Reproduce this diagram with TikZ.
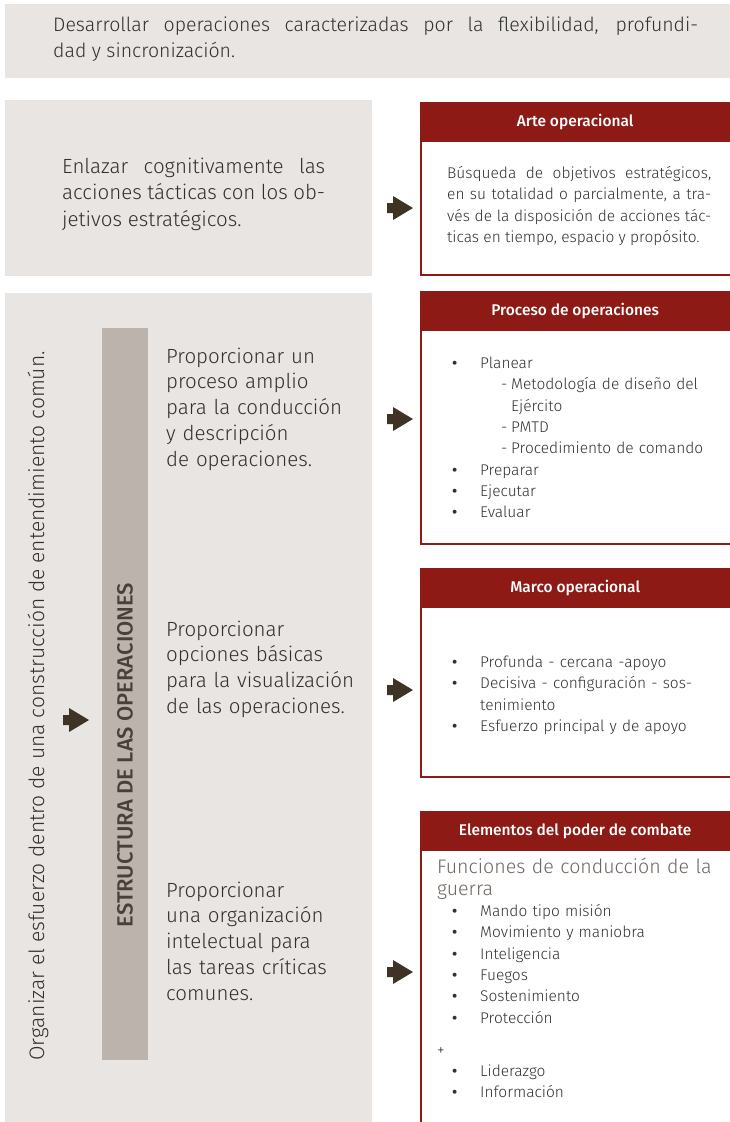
\documentclass[tikz,border=0pt]{standalone}
\usepackage{fontspec}
\setmainfont{Fira Sans}[UprightFont=* Light, BoldFont=* Medium]
\definecolor{panelgray}{HTML}{E8E5E2}
\definecolor{bargray}{HTML}{BCB4AC}
\definecolor{armyred}{HTML}{8E1A16}
\definecolor{arrowbrown}{HTML}{3F3325}
\definecolor{textdark}{HTML}{303030}
\definecolor{bartext}{HTML}{4A4038}
\definecolor{softtext}{HTML}{6E6660}
\tikzset{
  panel/.style={fill=panelgray, anchor=north west, inner sep=0pt},
  headbar/.style={fill=armyred, anchor=north west, inner sep=0pt, minimum width=310, minimum height=40, text=white, font=\fontsize{15.5}{17}\selectfont\bfseries},
  redline/.style={armyred, line width=2pt},
  bigtext/.style={anchor=base west, inner sep=0pt, text=textdark, text width=200, align=left, font=\fontsize{20.5}{25.8}\selectfont},
  smalltext/.style={anchor=base west, inner sep=0pt, text=textdark, text width=275, align=left, font=\fontsize{15.5}{21.3}\selectfont},
  blockarr/.pic={\fill[arrowbrown] (-13,-5) -- (-7,-5) -- (-7,-12) -- (13,0) -- (-7,12) -- (-7,5) -- (-13,5) -- cycle;}
}
\newcommand{\bul}{\makebox[28pt][l]{{\bfseries\textbullet}}}
\newcommand{\subit}{\hspace*{49pt}\makebox[10pt][l]{-}}
\begin{document}
\begin{tikzpicture}[x=1pt, y=-1pt]
  \useasboundingbox (0,0) rectangle (730,1122);
  \node[panel, minimum width=725, minimum height=74] (banner) at (5,4) {};
  \node[panel, minimum width=367, minimum height=176] (enlazarbox) at (5,100) {};
  \node[panel, minimum width=367, minimum height=829] (organizarbox) at (5,293) {};
  \node[anchor=north west, fill=bargray, inner sep=0pt, minimum width=46, minimum height=732] (estructura) at (102,328) {};
  \node[rotate=90, text=bartext, font=\fontsize{22}{24}\selectfont\bfseries] (estructuratxt) at (125,755) {ESTRUCTURA DE LAS OPERACIONES};
  \node[rotate=90, text=textdark, font=\fontsize{21}{23}\selectfont] (organizar) at (38,706) {Organizar el esfuerzo dentro de una construcción de entendimiento común.};

  \node[anchor=base west, inner sep=0pt, text=textdark, text width=645, align=justify, font=\fontsize{19.5}{26}\selectfont] (desarrollar) at (53,31)
    {Desarrollar operaciones caracterizadas por la flexibilidad, profundi-\linebreak dad y sincronización.};
  \node[anchor=base west, inner sep=0pt, text=textdark, text width=263, align=justify, font=\fontsize{20.5}{26.5}\selectfont] (enlazar) at (62,173)
    {Enlazar cognitivamente las\linebreak acciones tácticas con los ob-\linebreak jetivos estratégicos.};
  \node[bigtext] (prop1) at (166,363) {Proporcionar un\\proceso amplio\\para la conducción\\y descripción\\de operaciones.};
  \node[bigtext] (prop2) at (166,636) {Proporcionar\\opciones básicas\\para la visualización\\de las operaciones.};
  \node[bigtext] (prop3) at (166,897) {Proporcionar\\una organización\\intelectual para\\las tareas críticas\\comunes.};

  \node[headbar] (artehead) at (420,102) {Arte operacional};
  \draw[redline] (artehead.south west) ++(1,0) |- (730,275);
  \node[smalltext, text width=264, align=justify] (arte) at (447,178.5)
    {Búsqueda de objetivos estratégicos,\linebreak en su totalidad o parcialmente, a tra-\linebreak vés de la disposición de acciones tác-\linebreak ticas en tiempo, espacio y propósito.};

  \node[headbar] (procesohead) at (420,291) {Proceso de operaciones};
  \draw[redline] (procesohead.south west) ++(1,0) |- (730,544);
  \node[smalltext] (proceso) at (452,368.5)
    {\bul Planear\\\subit Metodología de diseño del\\\hspace*{59pt}Ejército\\\subit PMTD\\\subit Procedimiento de comando\\\bul Preparar\\\bul Ejecutar\\\bul Evaluar};

  \node[headbar] (marcohead) at (420,568) {Marco operacional};
  \draw[redline] (marcohead.south west) ++(1,0) |- (730,777);
  \node[smalltext] (marco) at (452,667.5)
    {\bul Profunda - cercana -apoyo\\\bul Decisiva - configuración - sos-\\\hspace*{28pt}tenimiento\\\bul Esfuerzo principal y de apoyo};

  \node[headbar] (elementoshead) at (420,811) {Elementos del poder de combate};
  \draw[redline] (elementoshead.south west) ++(1,0) -- (421,1122);
  \node[anchor=base west, inner sep=0pt, text=softtext, text width=290, align=left, font=\fontsize{19.6}{22.5}\selectfont] (funciones) at (437,873)
    {Funciones de conducción de la\\guerra};
  \node[smalltext] (elementos) at (452,916.5)
    {\bul Mando tipo misión\\\bul Movimiento y maniobra\\\bul Inteligencia\\\bul Fuegos\\\bul Sostenimiento\\\bul Protección\\[11pt]\hspace*{-15pt}+\\\bul Liderazgo\\\bul Información};

  \pic at (400,208) {blockarr};
  \pic at (400,419) {blockarr};
  \pic at (400,690) {blockarr};
  \pic at (400,972) {blockarr};
  \pic at (76,720) {blockarr};
\end{tikzpicture}
\end{document}
